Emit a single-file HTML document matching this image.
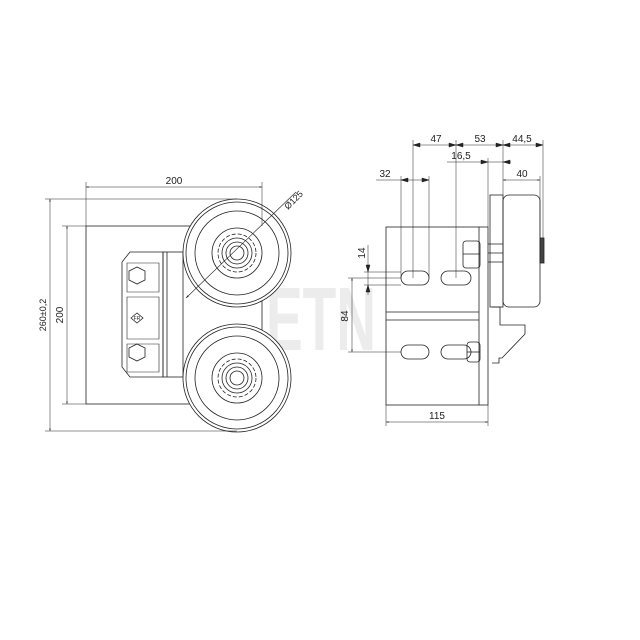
<!DOCTYPE html>
<html><head><style>html,body{margin:0;padding:0;background:#fff}svg{display:block}</style></head><body>
<svg width="640" height="640" viewBox="0 0 640 640" xmlns="http://www.w3.org/2000/svg" font-family="Liberation Sans, sans-serif" font-size="10" fill="none" stroke="#222" stroke-width="0.8">
<defs><marker id="a" viewBox="0 0 10 10" refX="10" refY="5" markerWidth="7" markerHeight="5" orient="auto-start-reverse"><path d="M0,2 L10,5 L0,8" fill="#222" stroke="none"/></marker></defs>
<text x="266" y="350" font-size="90" font-weight="bold" fill="#ececec" stroke="none" textLength="110" lengthAdjust="spacingAndGlyphs">ETN</text>
<!-- LEFT VIEW -->
<rect x="86" y="226" width="176" height="178"/>
<path d="M130,252 L163,252 L163,377 L130,377 L122,367 L122,262 Z"/>
<path d="M127,263 h32 v29 h-32 z M127,297 h32 v42 h-32 z M127,344 h32 v28 h-32 z" stroke-width="0.6"/>
<polygon points="137,267 145,271 145,280 137,284 129,280 129,271"/>
<polygon points="137,344 145,348 145,357 137,361 129,357 129,348"/>
<polygon points="131,318 137,313 143,318 137,323"/>
<text x="137" y="320" font-size="5" fill="#222" stroke="none" text-anchor="middle">FR</text>
<rect x="163" y="252" width="20" height="125"/><line x1="167" y1="252" x2="167" y2="377"/>
<g>
<circle cx="237" cy="253" r="54" fill="#fff"/><circle cx="237" cy="253" r="51"/><circle cx="237" cy="253" r="42"/><circle cx="237" cy="253" r="25"/><circle cx="237" cy="253" r="19" stroke-dasharray="4 2"/><circle cx="237" cy="253" r="15"/><circle cx="237" cy="253" r="11"/><circle cx="237" cy="253" r="7"/>
<circle cx="237" cy="378" r="54" fill="#fff"/><circle cx="237" cy="378" r="51"/><circle cx="237" cy="378" r="42"/><circle cx="237" cy="378" r="25"/><circle cx="237" cy="378" r="19" stroke-dasharray="4 2"/><circle cx="237" cy="378" r="15"/><circle cx="237" cy="378" r="11"/><circle cx="237" cy="378" r="7"/>
</g>
<line x1="186" y1="298" x2="296" y2="192" marker-start="url(#a)" stroke-width="0.6"/>
<text x="0" y="0" transform="translate(288,210) rotate(-45)" fill="#222" stroke="none" font-size="9">Ø125</text>
<g stroke-width="0.5">
<line x1="86" y1="182" x2="86" y2="226"/><line x1="262" y1="182" x2="262" y2="226"/>
<line x1="86" y1="187" x2="262" y2="187" marker-start="url(#a)" marker-end="url(#a)"/>
<line x1="45" y1="199" x2="237" y2="199"/><line x1="45" y1="431" x2="237" y2="431"/>
<line x1="50" y1="199" x2="50" y2="431" marker-start="url(#a)" marker-end="url(#a)"/>
<line x1="62" y1="226" x2="86" y2="226"/><line x1="62" y1="404" x2="86" y2="404"/>
<line x1="67" y1="226" x2="67" y2="404" marker-start="url(#a)" marker-end="url(#a)"/>
</g>
<text x="174" y="184" fill="#222" stroke="none" text-anchor="middle">200</text>
<text transform="translate(46,315) rotate(-90)" fill="#222" stroke="none" text-anchor="middle" font-size="9">260±0,2</text>
<text transform="translate(63,315) rotate(-90)" fill="#222" stroke="none" text-anchor="middle">200</text>
<!-- RIGHT VIEW -->
<rect x="386" y="227" width="102" height="178"/>
<line x1="479" y1="227" x2="479" y2="405"/>
<line x1="386" y1="312" x2="479" y2="312"/><line x1="386" y1="320" x2="479" y2="320"/>
<rect x="401" y="271" width="28" height="14" rx="7"/><rect x="441" y="271" width="30" height="14" rx="7"/>
<rect x="401" y="345" width="28" height="14" rx="7"/><rect x="441" y="345" width="30" height="14" rx="7"/>
<rect x="463" y="241" width="17" height="27" rx="3"/><line x1="463" y1="254" x2="480" y2="254"/>
<rect x="467" y="342" width="13" height="20" rx="3"/><line x1="467" y1="352" x2="480" y2="352"/>
<path d="M488,244 H503 M488,253 H503 M488,262 H503"/>
<rect x="490" y="195" width="13" height="112"/>
<rect x="503" y="195" width="37" height="112" rx="6"/>
<rect x="540" y="238" width="4" height="25" fill="#444"/>
<path d="M492,307 L500,307 L500,325 L525,325 L525,334 L502,358 L499,358 L499,363 L492,363"/>
<g stroke-width="0.5">
<line x1="413" y1="140" x2="413" y2="278"/><line x1="456" y1="140" x2="456" y2="278"/><line x1="503" y1="140" x2="503" y2="195"/><line x1="543" y1="140" x2="543" y2="238"/>
<line x1="413" y1="145" x2="543" y2="145"/>
<path d="M413,145 l7,-2 v4z M456,145 l-7,-2 v4z M456,145 l7,-2 v4z M503,145 l-7,-2 v4z M503,145 l7,-2 v4z M543,145 l-7,-2 v4z" fill="#222"/>
<line x1="488" y1="158" x2="488" y2="227"/>
<line x1="447" y1="162" x2="511" y2="162"/>
<path d="M488,162 l-7,-2 v4z M503,162 l7,-2 v4z" fill="#222"/>
<line x1="401" y1="176" x2="401" y2="278"/><line x1="429" y1="176" x2="429" y2="278"/>
<line x1="376" y1="180" x2="429" y2="180"/>
<path d="M401,180 l7,-2 v4z M429,180 l-7,-2 v4z" fill="#222"/>
<line x1="540" y1="176" x2="540" y2="238"/>
<line x1="503" y1="180" x2="540" y2="180" marker-start="url(#a)" marker-end="url(#a)"/>
<line x1="364" y1="272" x2="401" y2="272"/><line x1="364" y1="285" x2="401" y2="285"/>
<line x1="368" y1="245" x2="368" y2="295"/>
<path d="M368,272 l-2,-7 h4z M368,285 l-2,7 h4z" fill="#222"/>
<line x1="348" y1="278" x2="401" y2="278"/><line x1="348" y1="352" x2="401" y2="352"/>
<line x1="352" y1="278" x2="352" y2="352" marker-start="url(#a)" marker-end="url(#a)"/>
<line x1="386" y1="405" x2="386" y2="426"/><line x1="488" y1="405" x2="488" y2="426"/>
<line x1="386" y1="422" x2="488" y2="422" marker-start="url(#a)" marker-end="url(#a)"/>
</g>
<g fill="#222" stroke="none" text-anchor="middle">
<text x="436" y="142">47</text><text x="480" y="142">53</text><text x="522" y="142">44,5</text>
<text x="461" y="159">16,5</text><text x="385" y="177">32</text><text x="522" y="177">40</text>
<text transform="translate(365,253) rotate(-90)">14</text>
<text transform="translate(348,316) rotate(-90)">84</text>
<text x="437" y="419">115</text>
</g>
</svg>
</body></html>
